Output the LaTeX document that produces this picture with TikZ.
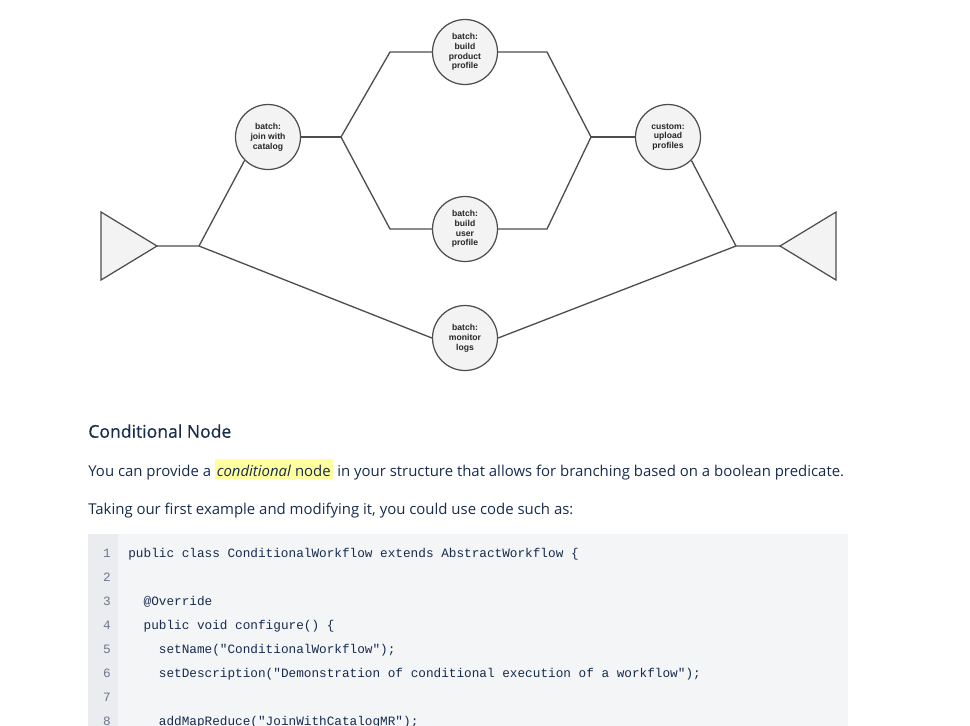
\documentclass[tikz,border=0pt]{standalone}
\usepackage{fontspec}
\setmonofont{Liberation Mono}
\newfontfamily\uifont{Open Sans}
\newfontfamily\headfont{Open Sans}[FakeBold=0.6]
\newfontfamily\taskfont{Liberation Sans}
\definecolor{ink}{HTML}{172B4D}
\definecolor{edge}{HTML}{4D4D4D}
\definecolor{taskbg}{HTML}{F3F3F3}
\definecolor{codebg}{HTML}{F4F5F7}
\definecolor{gutterbg}{HTML}{EBECF0}
\definecolor{lnum}{HTML}{6B778C}
\definecolor{mark}{HTML}{FFFF9E}
\begin{document}
\begin{tikzpicture}[x=0.02cm, y=-0.02cm,
  task/.style={circle, draw=edge, fill=taskbg, line width=0.7pt, minimum size=1.3cm, inner sep=0pt, align=center, text=black!85, font=\taskfont\bfseries\fontsize{4.9}{5.6}\selectfont},
  flow/.style={draw=edge, line width=0.75pt},
  tri/.style={draw=edge, fill=taskbg, line width=0.7pt, line join=miter},
  para/.style={anchor=base west, inner sep=0pt, text=ink, font=\uifont\fontsize{8.5}{10}\selectfont},
  lineno/.style={anchor=base east, inner sep=0pt, text=lnum, font=\ttfamily\fontsize{7.24}{9}\selectfont},
  codeline/.style={anchor=base west, inner sep=0pt, text=ink, font=\ttfamily\fontsize{7.24}{9}\selectfont}]
  \useasboundingbox (0,0) rectangle (970,725);

  % workflow graph
  \draw[tri] (101,212) -- (157,246) -- (101,280) -- cycle;
  \draw[tri] (836,212) -- (780,246) -- (836,280) -- cycle;
  \coordinate (srcTip) at (157,246);
  \coordinate (sinkTip) at (780,246);

  \node[task] (join) at (268,137) {batch:\\join with\\catalog};
  \node[task] (product) at (465,52) {batch:\\build\\product\\profile};
  \node[task] (user) at (465,229) {batch:\\build\\user\\profile};
  \node[task] (monitor) at (465,338) {batch:\\monitor\\logs};
  \node[task] (upload) at (668,137) {custom:\\upload\\profiles};

  \coordinate (forkA) at (199,246);
  \coordinate (forkB) at (341,137);
  \coordinate (forkC) at (591,137);
  \coordinate (forkD) at (736,246);
  \coordinate (upL) at (390,52);
  \coordinate (dnL) at (390,229);
  \coordinate (upR) at (547,52);
  \coordinate (dnR) at (547,229);

  \draw[flow] (srcTip) -- (forkA) -- (join.south west);
  \draw[flow] (forkA) -- (monitor.west);
  \draw[flow] (join.east) -- (forkB);
  \draw[flow] (forkB) -- (upL) -- (product.west);
  \draw[flow] (forkB) -- (dnL) -- (user.west);
  \draw[flow] (product.east) -- (upR) -- (forkC);
  \draw[flow] (user.east) -- (dnR) -- (forkC);
  \draw[flow] (forkC) -- (upload.west);
  \draw[flow] (upload.south east) -- (forkD) -- (sinkTip);
  \draw[flow] (monitor.east) -- (forkD);

  % text below the graph
  \node[anchor=base west, inner sep=0pt, text=ink, font=\headfont\fontsize{10}{12}\selectfont] (title) at (88,437.7) {Conditional Node};
  \node[para] (intro) at (88,476) {You can provide a {\setlength{\fboxsep}{0pt}\colorbox{mark}{\rule[-1.7pt]{0pt}{11.3pt}\kern1pt\textit{conditional} node\kern1.5pt}} in your structure that allows for branching based on a boolean predicate.};
  \node[para] (lead) at (88,514.3) {Taking our first example and modifying it, you could use code such as:};

  % code block
  \fill[codebg] (88,534) rectangle (848,730);
  \fill[gutterbg] (88,534) rectangle (118,730);
  \foreach \n in {1,...,8}
    \node[lineno] (num\n) at (111,557.7+24*\n-24) {\n};
  \node[codeline] (code1) at (128,557.7) {public class ConditionalWorkflow extends AbstractWorkflow \{};
  \node[codeline] (code3) at (128,605.7) {\hphantom{xx}@Override};
  \node[codeline] (code4) at (128,629.7) {\hphantom{xx}public void configure() \{};
  \node[codeline] (code5) at (128,653.7) {\hphantom{xxxx}setName("ConditionalWorkflow");};
  \node[codeline] (code6) at (128,677.7) {\hphantom{xxxx}setDescription("Demonstration of conditional execution of a workflow");};
  \node[codeline] (code8) at (128,725.7) {\hphantom{xxxx}addMapReduce("JoinWithCatalogMR");};
\end{tikzpicture}
\end{document}
